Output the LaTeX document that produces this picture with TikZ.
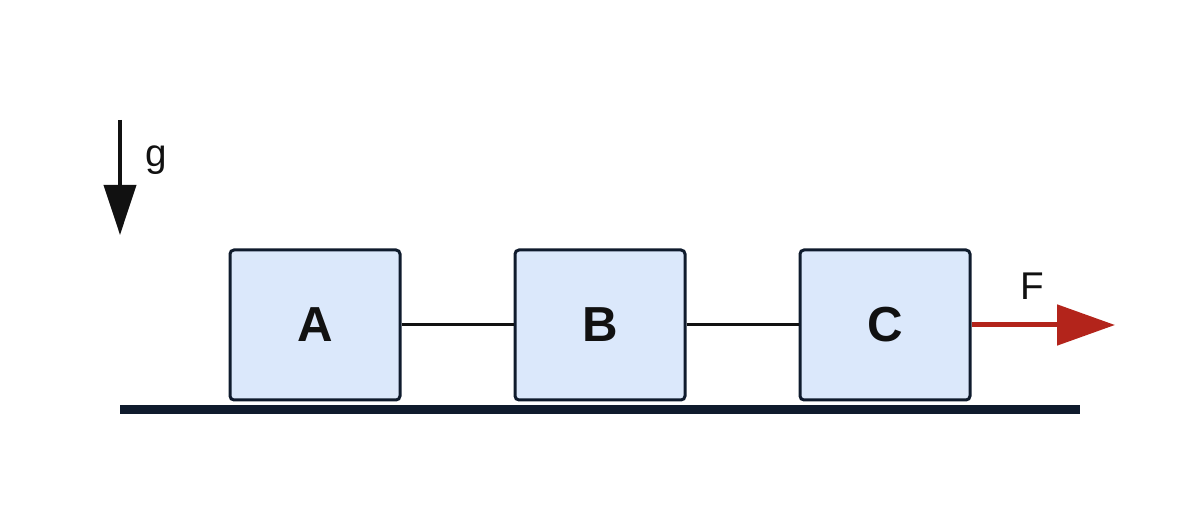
\documentclass[tikz,border=0pt]{standalone}
\usepackage{fontspec}
\setmainfont{Liberation Sans}
\usepackage{tikz}
\usetikzlibrary{arrows.meta, positioning}

\definecolor{boxfill}{HTML}{DBE8FB}
\definecolor{navy}{HTML}{0F1B2D}
\definecolor{forcered}{HTML}{B3241B}
\definecolor{inkblack}{HTML}{111111}

\begin{document}
\begin{tikzpicture}[
    mass/.style={draw=navy, fill=boxfill, line width=0.06cm, rounded corners=0.08cm, minimum width=3.4cm, minimum height=3cm, inner sep=0pt, font=\fontsize{28}{32}\selectfont\bfseries, text=inkblack},
    rope/.style={draw=inkblack, line width=0.06cm},
    force/.style={-{Triangle[length=1.16cm, width=0.8cm]}, forcered, line width=0.1cm},
    gravity/.style={-{Triangle[length=1cm, width=0.64cm]}, inkblack, line width=0.08cm},
    label/.style={font=\fontsize{22}{26}\selectfont, text=inkblack, inner sep=0pt}
]
\useasboundingbox (0,0) rectangle (24,10.4);

% Ground
\draw[navy, line width=0.18cm] (2.4,2.21) -- (21.6,2.21);

% Masses
\node[mass] (A) at (6.3,3.9) {A};
\node[mass] (B) at (12,3.9) {B};
\node[mass] (C) at (17.7,3.9) {C};

% Ropes between masses
\draw[rope] (A.east) -- (B.west);
\draw[rope] (B.east) -- (C.west);

% Pulling force
\coordinate (Fend) at (22.3,3.9);
\draw[force] (C.east) -- (Fend);
\node[label] (F) at (20.64,4.68) {F};

% Gravity
\coordinate (gtop) at (2.4,8);
\coordinate (gbot) at (2.4,5.7);
\draw[gravity] (gtop) -- (gbot);
\node[label] (g) at (3.12,7.2) {g};

\end{tikzpicture}
\end{document}
